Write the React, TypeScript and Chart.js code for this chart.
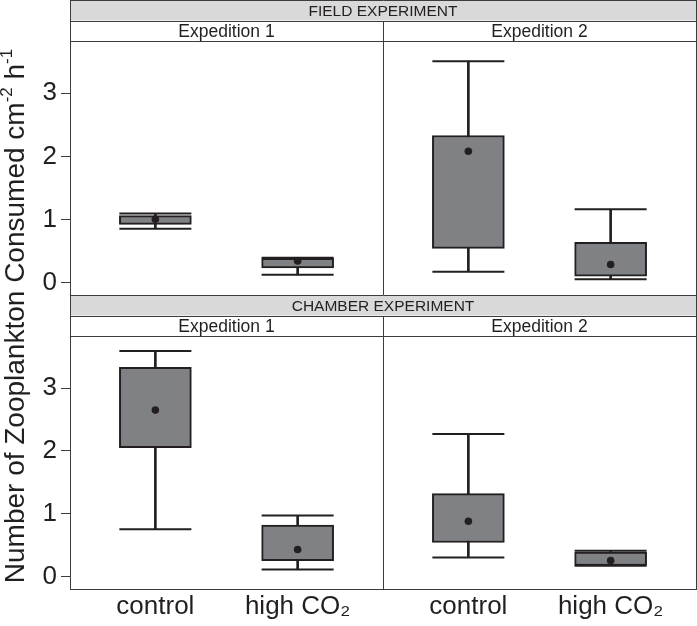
import { useEffect, useRef } from 'react';
import { Chart, registerables } from 'chart.js';

Chart.register(...registerables);

// ---------- data ----------
const categories = ['control', 'high CO₂'];
const experiments = ['FIELD EXPERIMENT', 'CHAMBER EXPERIMENT'];
const expeditions = ['Expedition 1', 'Expedition 2'];
const yTicks = [0, 1, 2, 3];
const yMin = -0.2;
const yMax = 3.83;
// panel order: Field-Exp1, Field-Exp2, Chamber-Exp1, Chamber-Exp2 ; each [control, high CO2]
const whiskerLow = [[0.85, 0.12], [0.17, 0.05], [0.75, 0.11], [0.30, 0.17]];
const boxLow = [[0.92, 0.23], [0.54, 0.10], [2.05, 0.25], [0.54, 0.175]];
const boxHigh = [[1.06, 0.38], [2.33, 0.635], [3.33, 0.82], [1.32, 0.39]];
const whiskerHigh = [[1.095, 0.39], [3.51, 1.16], [3.59, 0.97], [2.27, 0.41]];
const means = [[1.0, 0.34], [2.08, 0.285], [2.65, 0.43], [0.88, 0.255]];
const yTitleParts = [
  { text: 'Number of Zooplankton Consumed cm', sup: false },
  { text: '-2', sup: true },
  { text: ' h', sup: false },
  { text: '-1', sup: true },
];

// ---------- styles ----------
const FONT = '"Liberation Sans", Arial, Helvetica, sans-serif';
const INK = '#231f20';
const FRAME = '#3c3c3c';
const BOX = '#808184';
const STRIP = '#d9d9d9';

const panels = [
  { x: 'x1', y: 'yTop' },
  { x: 'x2', y: 'yTop' },
  { x: 'x1', y: 'yBot' },
  { x: 'x2', y: 'yBot' },
];

const facetPlugin = {
  id: 'facets',
  afterDraw(chart: any) {
    const ctx = chart.ctx as CanvasRenderingContext2D;
    const x1 = chart.scales.x1;
    const x2 = chart.scales.x2;
    const gap = chart.scales.yGap;
    const rows = [chart.scales.yTop, chart.scales.yBot];
    const head = gap.bottom - gap.top;
    const h = head / 2;
    const L = x1.left;
    const R = x2.right;
    const M = x1.right;
    const px = (v: number) => Math.round(v) + 0.5;
    const hline = (a: number, b: number, y: number) => {
      ctx.beginPath();
      ctx.moveTo(Math.round(a), px(y));
      ctx.lineTo(Math.round(b) + 1, px(y));
      ctx.stroke();
    };
    const vline = (x: number, a: number, b: number) => {
      ctx.beginPath();
      ctx.moveTo(px(x), Math.round(a));
      ctx.lineTo(px(x), Math.round(b) + 1);
      ctx.stroke();
    };
    ctx.save();
    rows.forEach((ys: any, r: number) => {
      const top = ys.top - head;
      ctx.fillStyle = STRIP;
      ctx.fillRect(L, top, R - L, h);
      ctx.strokeStyle = FRAME;
      ctx.lineWidth = 1;
      hline(L, R, top);
      hline(L, R, top + h);
      hline(L, R, ys.top);
      hline(L, R, ys.bottom);
      vline(L, top, ys.bottom);
      vline(R, top, ys.bottom);
      vline(M, top + h, ys.bottom);
      ctx.fillStyle = INK;
      ctx.textAlign = 'center';
      ctx.textBaseline = 'middle';
      ctx.font = `15.5px ${FONT}`;
      ctx.fillText(experiments[r], (L + R) / 2, top + h / 2 + 1);
      ctx.font = `17.5px ${FONT}`;
      ctx.fillText(expeditions[0], (x1.left + x1.right) / 2, top + 1.5 * h + 1);
      ctx.fillText(expeditions[1], (x2.left + x2.right) / 2, top + 1.5 * h + 1);
    });
    // y-axis title with superscripts
    const mainSize = 28;
    const supSize = 17;
    const cy = (rows[0].top + rows[1].bottom) / 2 + 1;
    ctx.translate(14, cy);
    ctx.rotate(-Math.PI / 2);
    ctx.textAlign = 'left';
    ctx.textBaseline = 'alphabetic';
    let total = 0;
    const widths = yTitleParts.map((p) => {
      ctx.font = `${p.sup ? supSize : mainSize}px ${FONT}`;
      const w = ctx.measureText(p.text).width;
      total += w;
      return w;
    });
    let u = -total / 2;
    const base = mainSize * 0.36;
    yTitleParts.forEach((p, i) => {
      ctx.font = `${p.sup ? supSize : mainSize}px ${FONT}`;
      ctx.fillText(p.text, u, p.sup ? base - 12 : base);
      u += widths[i];
    });
    ctx.restore();
  },
};

function zeroPadding(s: any) {
  s.paddingLeft = 0;
  s.paddingRight = 0;
  s.paddingTop = 0;
  s.paddingBottom = 0;
}

function yScale(weight: number, stackWeight: number) {
  return {
    type: 'linear',
    position: 'left',
    stack: 'rows',
    stackWeight,
    weight,
    min: yMin,
    max: yMax,
    afterBuildTicks: (s: any) => {
      s.ticks = yTicks.map((v) => ({ value: v }));
    },
    afterFit: (s: any) => {
      s.width = 70;
      zeroPadding(s);
    },
    grid: { display: true, drawOnChartArea: false, drawTicks: true, tickLength: 9, color: FRAME, lineWidth: 1 },
    border: { display: false },
    ticks: { font: { family: FONT, size: 26 }, color: INK, padding: 4 },
  };
}

function xScale(weight: number) {
  return {
    type: 'linear',
    position: 'bottom',
    stack: 'cols',
    stackWeight: 1,
    weight,
    min: 0.4,
    max: 2.6,
    offset: false,
    afterBuildTicks: (s: any) => {
      s.ticks = categories.map((_, i) => ({ value: i + 1 }));
    },
    afterFit: (s: any) => {
      s.height = 37;
      zeroPadding(s);
    },
    grid: { display: false, drawTicks: false, offset: false },
    border: { display: false },
    ticks: {
      font: { family: FONT, size: 26 },
      color: INK,
      padding: 2,
      autoSkip: false,
      maxRotation: 0,
      minRotation: 0,
      callback: (v: any) => categories[Math.round(v) - 1] ?? '',
    },
  };
}

export default function App() {
  const ref = useRef<HTMLCanvasElement | null>(null);
  useEffect(() => {
    document.body.style.margin = '0';
    const datasets: any[] = [];
    panels.forEach((p, k) => {
      const xs = categories.map((_, i) => i + 1);
      datasets.push({
        type: 'bar',
        xAxisID: p.x,
        yAxisID: p.y,
        data: xs.map((x, i) => ({ x, y: [whiskerLow[k][i], whiskerHigh[k][i]] })),
        backgroundColor: INK,
        borderWidth: 0,
        barThickness: 2,
        grouped: false,
        order: 4,
      });
      datasets.push({
        type: 'bar',
        xAxisID: p.x,
        yAxisID: p.y,
        data: xs.map((x, i) => ({ x, y: [boxLow[k][i], boxHigh[k][i]] })),
        backgroundColor: BOX,
        borderColor: INK,
        borderWidth: 2,
        borderSkipped: false,
        barThickness: 72,
        grouped: false,
        order: 3,
      });
      datasets.push({
        type: 'scatter',
        xAxisID: p.x,
        yAxisID: p.y,
        data: [
          ...xs.map((x, i) => ({ x, y: whiskerLow[k][i] })),
          ...xs.map((x, i) => ({ x, y: whiskerHigh[k][i] })),
        ],
        pointStyle: 'line',
        pointRadius: 36,
        pointBorderWidth: 2,
        pointBorderColor: INK,
        order: 2,
      });
      datasets.push({
        type: 'scatter',
        xAxisID: p.x,
        yAxisID: p.y,
        data: xs.map((x, i) => ({ x, y: means[k][i] })),
        pointStyle: 'circle',
        pointRadius: 3.8,
        pointBorderWidth: 0,
        pointBackgroundColor: INK,
        order: 1,
      });
    });

    const chart = new Chart(ref.current as HTMLCanvasElement, {
      type: 'bar',
      data: { datasets },
      options: {
        responsive: false,
        animation: false,
        events: [],
        layout: { autoPadding: false, padding: { top: 41, right: 1, bottom: 0, left: 0 } },
        plugins: { legend: { display: false }, tooltip: { enabled: false }, title: { display: false } },
        scales: {
          x1: xScale(1),
          x2: xScale(2),
          yTop: yScale(3, 254),
          yGap: { type: 'linear', position: 'left', stack: 'rows', stackWeight: 41, weight: 2, display: false, min: 0, max: 1 },
          yBot: yScale(1, 253),
        },
      } as any,
      plugins: [facetPlugin],
    });
    return () => chart.destroy();
  }, []);
  return (
    <div style={{ width: 697, height: 626, background: '#fff' }}>
      <canvas ref={ref} width={697} height={626} style={{ display: 'block' }} />
    </div>
  );
}
